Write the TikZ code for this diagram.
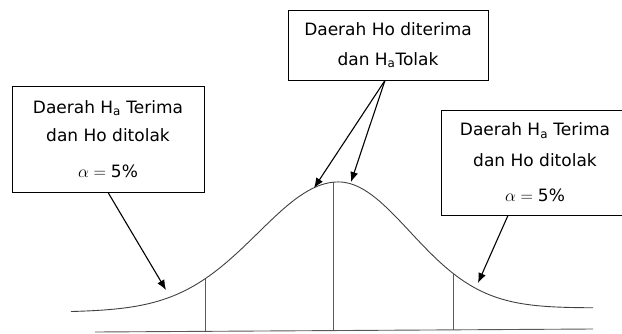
\documentclass[tikz,border=0pt]{standalone}
\usepackage{amsmath}
\usepackage{fontspec}
\setmainfont{DejaVu Sans}
\usetikzlibrary{arrows.meta}

\begin{document}
\begin{tikzpicture}[x=1pt, y=-1pt, >={Latex[length=10pt,width=8pt]},
  box/.style={draw, line width=0.8pt, inner sep=0pt, align=center, font=\fontsize{17}{28}\selectfont},
  bell/.style={draw=black!75, line width=0.9pt},
  cut/.style={draw=black!65, line width=0.9pt},
  pointer/.style={->, line width=1.1pt},
  declare function={sg(\t)=((\t<338)?80:72); gy(\t)=312-4*(\t-71)/522-128*exp(-0.5*((\t-338)/sg(\t))*((\t-338)/sg(\t)));}]
  \useasboundingbox (0,0) rectangle (622,333);
  \node[box, minimum width=192pt, minimum height=106pt] (lbox) at (108,139) {Daerah H\textsubscript{a} Terima\\ dan Ho ditolak\\[8pt] $\alpha = \text{5\%}$};
  \node[box, minimum width=200pt, minimum height=70pt, font=\fontsize{17}{30}\selectfont] (cbox) at (388,45) {Daerah Ho diterima\\ dan H\textsubscript{a}Tolak};
  \node[box, minimum width=188pt, minimum height=105pt, font=\fontsize{17}{31}\selectfont] (rbox) at (535,162.5) {Daerah H\textsubscript{a} Terima\\ dan Ho ditolak\\[4pt] $\alpha = \text{5\%}$};
  \draw[bell] plot[domain=71:593, samples=200, smooth] (\x, {gy(\x)});
  \coordinate (b0) at (95,332); \coordinate (b1) at (593,329);
  \coordinate (vL) at (205,{gy(205)}); \coordinate (vLb) at (205,331.3);
  \coordinate (vC) at (333,{gy(333)}); \coordinate (vCb) at (333,330.6);
  \coordinate (vR) at (453,{gy(453)}); \coordinate (vRb) at (453,329.8);
  \draw[cut] (b0) -- (b1);
  \draw[cut] (vL) -- (vLb); \draw[cut] (vC) -- (vCb); \draw[cut] (vR) -- (vRb);
  \coordinate (tipL) at (166,290); \coordinate (tipC1) at (314,188);
  \coordinate (tipC2) at (351,182); \coordinate (tipR) at (478,283);
  \draw[pointer] (lbox.south) -- (tipL);
  \draw[pointer] ([xshift=-3pt]cbox.south) -- (tipC1);
  \draw[pointer] ([xshift=-3pt]cbox.south) -- (tipC2);
  \draw[pointer] ([xshift=-27pt]rbox.south) -- (tipR);
\end{tikzpicture}
\end{document}
